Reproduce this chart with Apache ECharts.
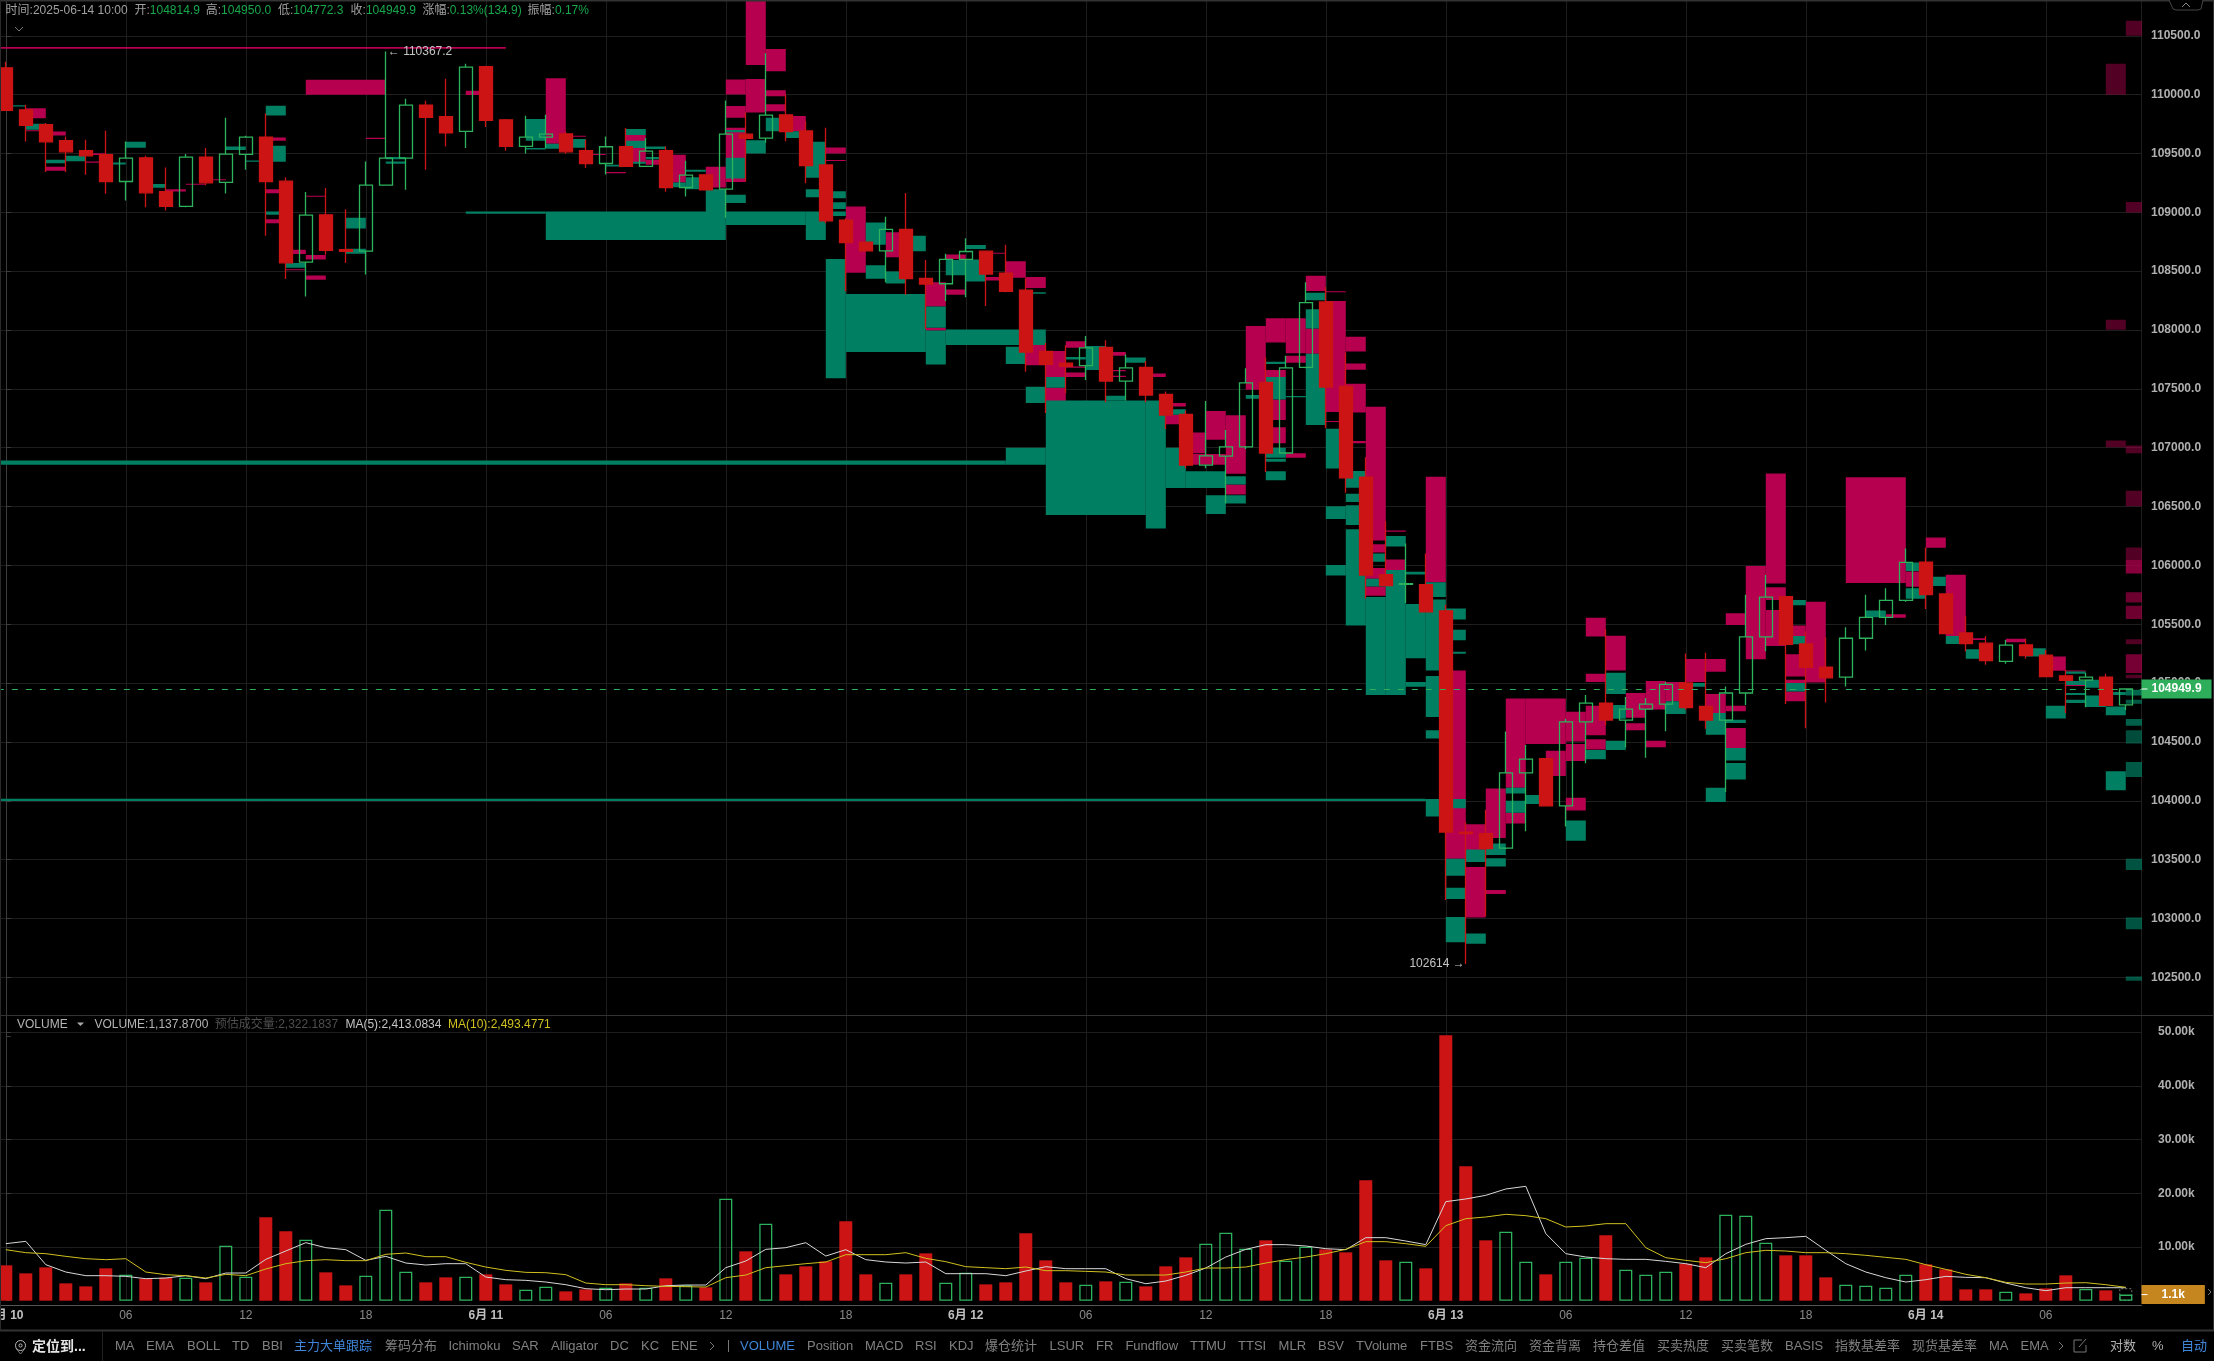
<!DOCTYPE html>
<html><head><meta charset="utf-8"><style>html,body{margin:0;padding:0;background:#000}#c{width:2214px;height:1361px}</style>
<script src="https://cdn.jsdelivr.net/npm/echarts@6/dist/echarts.min.js"></script></head><body><div id="c"></div><script>
const opens=[110228,109871,109744,109608,109523,109489,109262,109463,109175,109050,109469,109254,109492,109639,109265,108577,108979,108682,108671,109231,109461,109911,109812,109687,110237,109786,109560,109639,109667,109523,109415,109557,109390,109523,109211,109319,109197,109664,109631,109828,109691,109403,108934,108746,108673,108855,108439,108393,108600,108670,108484,108339,107819,107718,107697,107852,107566,107682,107454,107284,106852,106928,107007,107554,106955,107682,108238,107521,106749,105922,105840,105836,105614,103734,103722,103598,104237,104358,103957,104670,104830,104686,104779,104822,105002,104803,104686,104916,105392,105735,105333,105136,105051,105381,105559,105703,106028,105757,105426,105339,105184,105325,105237,105062,105025,105051,104814.9];
const closes=[109866,109738,109599,109514,109480,109260,109461,109166,109050,109469,109251,109495,109639,109262,108571,108976,108676,108668,109231,109461,109911,109806,109676,110234,109781,109560,109639,109665,109514,109415,109557,109390,109520,109211,109316,109192,109665,109628,109825,109685,109396,108928,108743,108673,108855,108436,108390,108600,108667,108475,108329,107813,107709,107691,107849,107566,107679,107448,107278,106852,106931,107007,107551,106955,107679,108232,107515,106743,105918,105828,105845,105606,103734,103722,103594,104237,104354,103957,104670,104830,104686,104779,104822,104990,104791,104686,104916,105392,105731,105329,105133,105045,105381,105559,105703,106025,105751,105421,105336,105192,105322,105234,105056,105023,105051,104811,104949.9];
const highs=[110279,109914,109760,109645,109616,109693,109602,109480,109381,109495,109546,109803,109650,109840,109299,109172,109206,109027,109432,110367.2,109965,109948,110135,110262,110245,109792,109820,109829,109687,109616,109645,109716,109631,109560,109438,109319,109951,109849,110351,110001,109773,109719,108950,108746,108962,109165,108594,108649,108779,108670,108725,108440,107889,107870,107949,107913,107791,107737,107478,107317,107396,107150,107676,107767,107782,108405,108366,107810,106920,106375,106187,106102,105665,103820,103925,104588,104475,104358,104698,104900,105458,104881,104873,105010,105251,105259,104971,105751,105918,105735,105438,105390,105475,105751,105805,106144,106153,105760,105571,105401,105367,105376,105282,105113,105085,105079,104950];
const lows=[109860,109602,109342,109342,109319,109158,109101,109044,109016,109044,109231,109160,109362,108801,108433,108285,108639,108569,108472,109225,109192,109362,109560,109546,109724,109523,109500,109546,109497,109376,109322,109385,109385,109175,109135,109192,108954,109263,109591,109603,109248,108907,108329,108673,108405,108299,108010,108247,108278,108205,108320,107646,107296,107463,107575,107387,107402,107387,107159,106825,106825,106527,106990,106794,106945,107675,107165,106618,105719,105821,105680,105600,103157,102614,103020,103590,103742,103957,103781,104319,104639,104452,104366,104592,104775,104612,104074,104815,105271,104822,104616,104836,104972,105277,105494,105692,105630,105415,105268,105155,105164,105206,105050,104746,104794,104805,104772.3];
const volumes=[6583,5092,6210,3229,2670,6024,4844,4099,4285,4285,3416,10247,4471,15525,12917,11364,5279,2857,4658,16953,5403,3416,4347,4471,4906,3043,2049,2608,1739,2111,2422,3229,2422,4161,2857,2484,19003,9191,14345,4906,6396,7328,14780,4906,3353,4906,8818,3353,5216,3043,3416,12544,7514,3416,2981,3602,3540,2670,6396,8073,10619,12668,9688,11240,7452,10060,9563,9005,22418,7514,7266,6024,49432,25026,11240,12855,7266,4906,7266,8011,12172,5775,4844,5403,6893,8073,16022,15836,10805,8446,8446,4347,2981,2795,2422,4844,6769,5837,2111,2111,1677,1366,2298,4720,2174,1925,1137.87];
const ma5=[10619,11054,6707,5341,4658,4658,4533,4099,4223,4658,4099,5154,5154,7700,9253,10805,9874,9501,7514,8259,7017,6645,6893,6893,4409,3912,3788,3478,2981,2236,2049,2174,2174,2795,2919,2919,6148,7390,9563,9874,10805,8321,9501,7638,7204,7017,7204,5030,5030,5030,4658,5527,6334,5962,5962,5962,4099,3167,3664,4720,6086,8135,9563,10433,10433,10184,9688,9501,11737,11737,11116,10433,18444,18941,19624,20804,21300,12482,8756,8135,7825,7700,7700,7328,6893,6148,8756,10495,11551,11737,11985,9377,6893,5341,4285,3478,3912,4533,4347,4285,3291,2422,1863,2422,2422,2422,2413.08];
const ma10=[9501,8942,8756,8259,7825,7638,7825,5341,4844,4658,4223,4906,4658,5900,6893,7452,7638,7452,7452,8632,8880,8197,8197,7142,6272,5651,5279,5216,4844,3291,2981,2981,2795,2670,2608,2546,4285,4782,6148,6521,6893,7204,8570,8570,8570,8942,7887,7266,6334,6148,5962,6272,5589,5589,5465,5341,4782,4782,4782,5341,6086,6086,6272,7017,7638,8135,8756,9563,10992,10992,10619,10122,13973,15277,15587,16084,15836,15277,13724,13910,14345,14345,9874,8011,7514,7079,7825,8942,9377,9253,8942,8942,8756,8446,8073,7700,6707,5837,4906,4285,3416,3105,3105,3291,3353,2981,2493.48];
const estimatedVolume=2322.18, lastPrice=104949.9, lastVolume=1137.87;
const priceHigh=[19,110367.2], priceLow=[73,102614];
// order blocks: [fromCandle, toCandle, lowPrice, highPrice]
const askBlocks=[[-1,25,110390,110405],[15,19,110000,110126],[27,28,109582,110140],[23,24,109996,110033],[1,2,109800,109885],[1,2,109690,109698],[2,3,109653,109687],[2,3,109353,109387],[4,5,109488,109502],[4,5,109422,109432],[8,9,109177,109197],[9,10,109234,109243],[10,11,109276,109282],[13,14,109608,109636],[13,14,109163,109197],[13,14,108908,108942],[14,15,108645,108682],[14,15,108509,108517],[15,16,108600,108637],[15,16,109132,109141],[15,16,108427,108464],[18,19,109622,109633],[28,29,109642,109650],[29,30,109489,109495],[30,31,109333,109342],[31,32,109418,109662],[32,33,109404,109446],[33,34,109254,109489],[35,36,109211,109387],[36,37,110001,110129],[36,37,109804,109904],[36,37,109257,109719],[37,38,110251,110810],[37,38,109849,110132],[38,39,110199,110388],[38,39,109986,110038],[38,39,109859,109919],[39,40,109688,109819],[40,41,109454,109500],[41,42,109500,109551],[41,42,109438,109445],[42,43,108487,109050],[44,45,108618,108831],[46,47,108199,108405],[46,47,107995,108019],[47,48,108603,108642],[47,48,108300,108345],[49,50,108421,108451],[49,50,108648,108657],[50,51,108445,108585],[51,52,108357,108451],[51,52,107700,107949],[52,53,107600,107822],[52,53,107396,107509],[53,54,107849,107904],[53,54,107600,107640],[53,54,107680,107690],[55,56,107782,107813],[55,56,107650,107660],[55,56,107600,107612],[57,58,107600,107630],[58,59,107350,107381],[58,59,107199,107281],[59,60,106952,107129],[60,61,107068,107311],[59,61,106855,106946],[61,62,106779,107275],[61,62,106603,106688],[62,63,107493,108035],[63,64,107895,108101],[64,65,107803,108101],[64,65,107721,107782],[63,64,107600,107660],[63,64,107235,107409],[63,64,107037,107174],[64,65,106915,106952],[65,66,108332,108461],[65,66,107798,108012],[66,67,107303,108246],[66,67,108320,108330],[66,67,107220,107228],[67,68,107818,107942],[67,68,107662,107716],[67,68,107299,107544],[67,68,107037,107057],[68,69,106211,107349],[68,69,106109,106179],[68,69,105887,105977],[68,69,105743,105821],[69,70,106285,106297],[69,70,105961,106051],[71,72,105856,106753],[72,73,103508,105107],[73,74,103527,103800],[73,74,103009,103438],[74,75,103684,104105],[74,75,103208,103243],[75,76,104112,104869],[75,76,103808,103898],[76,78,104483,104869],[77,78,104210,104425],[78,79,104503,104756],[78,79,104339,104483],[78,79,103917,104027],[79,80,105396,105556],[79,80,105010,105080],[79,80,104557,104807],[79,80,104436,104522],[80,81,105107,105403],[81,82,104705,104916],[81,82,104600,104658],[82,83,104775,105017],[82,83,104456,104510],[83,84,104846,105010],[84,85,105010,105204],[85,86,105096,105204],[85,86,104746,104907],[84,85,105085,105198],[86,87,105494,105593],[86,87,104760,104808],[86,87,104449,104619],[87,88,105203,105994],[88,89,105847,106780],[88,89,105706,105814],[88,89,105316,105621],[89,90,105401,105489],[89,90,105056,105246],[89,90,105000,105028],[89,90,104845,104929],[90,91,105005,105692],[92,95,105850,106749],[94,95,105556,105585],[95,96,105819,105949],[96,97,106150,106237],[97,98,105401,105921],[98,99,105367,105381],[100,101,105347,105376],[102,103,105104,105226],[103,104,105099,105108],[103,104,104978,104983]];
const bidBlocks=[[0,1,109900,109910],[1,2,109701,109752],[2,3,109418,109447],[3,4,109435,109480],[5,6,109407,109424],[6,7,109548,109599],[7,8,109209,109240],[11,12,109529,109560],[12,13,109430,109441],[13,14,109823,109905],[13,14,109430,109565],[13,14,108979,109008],[14,15,108529,108569],[17,18,108863,108954],[17,18,108648,108690],[19,20,109452,109469],[19,20,109412,109432],[26,27,109608,109792],[26,27,109534,109546],[27,28,109540,109582],[28,29,109548,109622],[30,31,109390,109404],[31,32,109656,109707],[31,32,109546,109608],[31,32,109412,109430],[32,33,109537,109560],[32,33,109452,109469],[33,34,109214,109254],[34,35,109345,109362],[34,35,109197,109299],[23,27,108988,109008],[27,36,108764,109007],[35,36,108990,109196],[36,40,108892,109007],[36,37,109287,109463],[36,37,109680,109700],[36,37,109080,109150],[37,38,109500,109612],[38,39,109688,109804],[39,40,109631,109688],[40,41,109293,109600],[40,41,109129,109196],[40,41,108764,109007],[41,42,109120,109180],[41,42,109029,109086],[41,42,108968,109007],[41,42,107591,108603],[42,46,107813,108305],[43,44,108725,108913],[43,44,108436,108551],[44,45,108396,108497],[45,46,108670,108801],[46,47,108019,108199],[46,47,107706,107995],[47,52,107873,108004],[47,48,108466,108594],[48,49,108412,108600],[48,49,108688,108722],[50,51,107712,107858],[51,52,108308,108320],[51,52,107381,107518],[52,53,107509,107600],[53,54,107750,107770],[54,55,107661,107864],[56,57,107721,107767],[58,59,107281,107326],[52,57,106429,107402],[55,56,107402,107442],[57,58,106314,107402],[50,52,106855,107000],[58,59,106657,107000],[59,61,106657,106800],[-1,50,106855,106892],[60,61,106436,106597],[61,62,106688,106758],[61,62,106527,106597],[62,63,107417,107447],[63,64,107712,107730],[63,64,107409,107600],[63,64,106915,107000],[63,64,106880,106907],[63,64,106724,106800],[64,65,107428,107440],[65,66,108254,108317],[65,66,108012,108176],[65,66,107193,107798],[66,67,106823,107162],[66,67,106394,106503],[66,67,105914,106004],[67,68,106659,106803],[67,68,106538,106608],[67,68,106343,106511],[67,68,105489,106308],[68,69,106031,106102],[68,69,105821,105887],[68,69,104900,105731],[69,70,106160,106250],[69,70,104900,105961],[70,71,105922,105946],[70,71,105212,105672],[70,71,104970,105010],[71,72,105731,105856],[71,72,105107,105711],[71,72,104713,105060],[71,72,104530,104600],[71,72,103867,104015],[-1,71,103998,104017],[72,73,105540,105633],[72,73,105364,105454],[72,73,105250,105267],[72,73,103937,104015],[72,73,103364,103508],[72,73,103165,103262],[72,73,102798,103013],[73,74,103481,103586],[73,74,102786,102873],[74,75,103539,103637],[74,75,103442,103512],[75,76,104062,104112],[75,76,103898,104000],[76,77,103972,104049],[78,79,103660,103832],[79,80,104354,104432],[80,81,104908,105088],[80,81,104697,104815],[80,81,104432,104510],[83,84,104737,104846],[84,85,104970,105002],[85,86,104562,104746],[85,86,103989,104110],[86,87,104661,104689],[86,87,104342,104449],[86,87,104181,104322],[89,90,105661,105706],[89,90,105330,105401],[89,90,104929,105000],[93,94,105559,105616],[95,96,105952,106025],[95,96,105717,105805],[96,97,105825,105904],[97,98,105333,105401],[98,99,105206,105288],[101,102,105226,105297],[102,103,104700,104808],[103,104,105079,105099],[103,104,104983,105017],[103,104,104900,104915],[103,104,104830,104859],[104,105,104960,105028],[104,105,104797,104895],[105,106,104726,104802],[105,106,104900,104925],[105,106,104090,104251]];
// resting depth in the last column: [from, to, low, high, strength]
const depthAsk=[[106,107,110500,110627,.45],[105,106,109999,110262,.45],[106,107,108999,109087,.45],[105,106,108002,108087,.45],[105,106,107005,107062,.45],[106,107,106954,107019,.45],[106,107,106503,106634,.45],[106,107,106045,106153,.45],[106,107,105932,106045,.75],[106,107,105684,105771,.6],[106,107,105545,105658,.6],[106,107,105330,105373,.45],[106,107,105085,105246,.65],[106,107,105042,105070,.45]];
const depthBid=[[106,107,104895,104943,.8],[106,107,104825,104859,.7],[106,107,104638,104695,.75],[106,107,104486,104599,.6],[106,107,104203,104330,.7],[106,107,103412,103508,.65],[106,107,102909,103008,.65],[106,107,102472,102508,.65]];
const headerLabels=['时间:','开:','高:','低:','收:','涨幅:','振幅:'];
const headerValues=['2025-06-14 10:00','104814.9','104950.0','104772.3','104949.9','0.13%(134.9)','0.17%'];
const volumeLegend=['VOLUME','VOLUME:1,137.8700','预估成交量:2,322.1837','MA(5):2,413.0834','MA(10):2,493.4771'];
const toolbarItems=['MA','EMA','BOLL','TD','BBI','主力大单跟踪','筹码分布','Ichimoku','SAR','Alligator','DC','KC','ENE','VOLUME','Position','MACD','RSI','KDJ','爆仓统计','LSUR','FR','Fundflow','TTMU','TTSI','MLR','BSV','TVolume','FTBS','资金流向','资金背离','持仓差值','买卖热度','买卖笔数','BASIS','指数基差率','现货基差率','MA','EMA','对数','%','自动'];

const toolbarX=[115,146,187,232,262,294,385,448.5,512,551,610,641,671,740,807,865,915,949,985,1049.5,1096,1125.4,1190,1238,1278.6,1318,1356,1420,1465,1529,1593,1657,1721,1785,1835,1912,1989,2020.5,2110,2152,2181];
const headerX=[[5.6,32.9],[134.5,149.8],[205.8,221.1],[278,293.3],[350.6,365.9],[422.4,449.7],[527.6,554.9]];
const FONT='"Liberation Sans","Noto Sans CJK SC",sans-serif';
const ASK='#b6004f',BID='#007f62',UP='#2db35d',DOWN='#cc1414',GRID='#1e1e1e',AXIS='#3c3c3c',TXT='#b0b0b0',MA10C='#d0c020';
const XMAX=106.785,XMIN=-6,LEFT=5.8+XMIN*20,WIDTH=(XMAX-XMIN)*20;
const idx=opens.map((_,i)=>i);
const rectItem=(color,op)=>(p,api)=>{const a=api.coord([api.value(0),api.value(3)]),b=api.coord([api.value(1),api.value(2)]);
  return {type:'rect',shape:{x:a[0],y:a[1],width:b[0]-a[0],height:Math.max(b[1]-a[1],1)},style:{fill:color,opacity:op?api.value(4):1}}};
const blockSeries=(name,d,color,op)=>({name,type:'custom',xAxisIndex:0,yAxisIndex:0,z:1,silent:true,clip:true,data:d,encode:{x:[0,1],y:[2,3]},renderItem:rectItem(color,op)});
const tickSeries=(xi,yi,v)=>({type:'custom',xAxisIndex:xi,yAxisIndex:yi,z:6,silent:true,clip:false,data:[[XMAX,v]],encode:{x:0,y:1},renderItem:(p,api)=>{const c=api.coord([api.value(0),api.value(1)]);return {type:'line',shape:{x1:c[0],y1:c[1],x2:c[0]+6,y2:c[1]},style:{stroke:'#fff',lineWidth:1}}}});
const text=(t,x,y,fill,opt)=>({type:'text',z:20,silent:true,style:Object.assign({text:t,x,y,fill,font:'12px '+FONT,verticalAlign:'middle'},opt||{})});
const graphics=[];
headerLabels.forEach((l,i)=>{graphics.push(text(l,headerX[i][0],11,'#a0a0a0'));graphics.push(text(headerValues[i],headerX[i][1],11,i==0?'#a0a0a0':'#18a84a'));});
graphics.push({type:'polyline',silent:true,shape:{points:[[15,27],[19,31],[23,27]]},style:{stroke:'#777',lineWidth:1,fill:null}});
// separators
[[0,0,2214,1.5,'#333'],[0,1015,2214,1,'#333'],[0,1329.5,2214,2,'#333']].forEach(r=>graphics.push({type:'rect',silent:true,z:15,shape:{x:r[0],y:r[1],width:r[2],height:r[3]},style:{fill:r[4]}}));
graphics.push({type:'rect',silent:true,z:15,shape:{x:102,y:1331,width:1,height:30},style:{fill:'#222'}});
graphics.push({type:'rect',silent:true,z:15,shape:{x:2213,y:0,width:1,height:1330},style:{fill:'#333'}});
graphics.push({type:'rect',silent:true,z:15,shape:{x:0,y:0,width:1,height:1330},style:{fill:'#2a2a2a'}});
// collapse tab
graphics.push({type:'polyline',silent:true,z:15,shape:{points:[[2169,0],[2173,9],[2176,10],[2198,10],[2201,9],[2203,0]]},style:{stroke:'#444',fill:'#000',lineWidth:1}});
graphics.push({type:'polyline',silent:true,z:16,shape:{points:[[2182,7],[2186,3],[2190,7]]},style:{stroke:'#888',fill:null,lineWidth:1}});
// volume legend
[[17,'#b4b4b4'],[94.4,'#b4b4b4'],[214.8,'#4f4f4f'],[345.4,'#c4c4c4'],[448,MA10C]].forEach((c,i)=>graphics.push(text(volumeLegend[i],c[0],1025,c[1])));
graphics.push({type:'polygon',silent:true,z:20,shape:{points:[[77,1022.5],[84,1022.5],[80.5,1026]]},style:{fill:'#aaa'}});
// toolbar
toolbarItems.forEach((t,i)=>{const blue=(t==='主力大单跟踪'||t==='VOLUME'||t==='自动');const bright=(t==='对数'||t==='%');
  graphics.push(text(t,toolbarX[i],1346,blue?'#3f86d9':bright?'#b0b0b0':'#808080',{font:'13px '+FONT}));});
graphics.push(text('定位到...',32,1347,'#e6e6e6',{font:'bold 14px '+FONT}));
graphics.push({type:'circle',silent:true,z:20,shape:{cx:20.5,cy:1345.5,r:5},style:{stroke:'#bbb',fill:null,lineWidth:1}});
graphics.push({type:'circle',silent:true,z:20,shape:{cx:20.5,cy:1345.5,r:1.6},style:{stroke:'#bbb',fill:null,lineWidth:1}});
[[[16,1348.5],[20.5,1354],[25,1348.5]],[[710,1342],[714,1346],[710,1350]],[[2059,1342],[2063,1346],[2059,1350]],[[2082,1340],[2074,1340],[2074,1352],[2086,1352],[2086,1345]],[[2079,1347],[2086,1339]],[[728.5,1340],[728.5,1352]]].forEach(e=>graphics.push({type:'polyline',silent:true,z:20,shape:{points:e},style:{stroke:'#777',fill:null,lineWidth:1}}));
// far right chevron
graphics.push({type:'polyline',silent:true,z:20,shape:{points:[[2208,1289],[2211,1292],[2208,1295]]},style:{stroke:'#777',fill:null,lineWidth:1}});

const xLabel=v=>{if(v<0||!Number.isInteger(v))return '';const h=v%24;if(h===0)return '{d|6月 '+(10+v/24)+'}';return '{h|'+String(h).padStart(2,'0')+'}';};
const chart=echarts.init(document.getElementById('c'),null,{width:2214,height:1361});
chart.setOption({
  backgroundColor:'#000',animation:false,textStyle:{fontFamily:FONT},
  graphic:{elements:graphics},
  grid:[{left:LEFT,width:WIDTH,top:0,height:1036.2,outerBoundsMode:'none'},{left:LEFT,width:WIDTH,top:1015,height:285.7,outerBoundsMode:'none'}],
  xAxis:[
    {type:'value',gridIndex:0,min:XMIN,max:XMAX,interval:6,axisLine:{show:false},axisTick:{show:false},axisLabel:{show:false},splitLine:{show:true,lineStyle:{color:GRID,width:1}}},
    {type:'value',gridIndex:1,min:XMIN,max:XMAX,interval:6,position:'bottom',offset:4.3,axisLine:{show:true,onZero:false,lineStyle:{color:'#555'}},axisTick:{show:false},
     axisLabel:{show:true,margin:5,formatter:xLabel,rich:{d:{fontFamily:FONT,fontSize:12,fontWeight:'bold',color:'#c0c0c0'},h:{fontFamily:FONT,fontSize:12,color:'#8a8a8a'}}},splitLine:{show:true,lineStyle:{color:GRID,width:1}}}
  ],
  yAxis:[
    {type:'value',gridIndex:0,position:'right',min:102000,max:110804,interval:500,axisLine:{show:true,lineStyle:{color:AXIS}},axisTick:{show:true,length:5,lineStyle:{color:AXIS}},
     axisLabel:{margin:9.5,color:TXT,fontSize:12,fontWeight:'bold',fontFamily:FONT,formatter:v=>(v%500===0&&v>102000)?v.toFixed(1):''},splitLine:{show:true,showMinLine:false,showMaxLine:false,lineStyle:{color:GRID,width:1}}},
    {type:'value',gridIndex:1,position:'right',min:0,max:53200,interval:10000,axisLine:{show:true,lineStyle:{color:AXIS}},axisTick:{show:true,length:5,lineStyle:{color:AXIS}},
     axisLabel:{margin:16.5,color:TXT,fontSize:12,fontWeight:'bold',fontFamily:FONT,formatter:v=>(v>0&&v%10000===0)?(v/1000).toFixed(2)+'k':''},splitLine:{show:true,showMinLine:false,showMaxLine:false,lineStyle:{color:GRID,width:1}}}
  ],
  series:[
    blockSeries('主力卖单',askBlocks,ASK,false),
    blockSeries('主力买单',bidBlocks,BID,false),
    blockSeries('卖盘深度',depthAsk,ASK,true),
    blockSeries('买盘深度',depthBid,BID,true),
    {name:'K线',type:'candlestick',xAxisIndex:0,yAxisIndex:0,z:3,clip:false,barWidth:13,silent:true,
     data:idx.map(i=>[i,opens[i],closes[i],lows[i],highs[i]]),encode:{x:0,y:[1,2,3,4]},
     itemStyle:{color:'transparent',color0:DOWN,borderColor:UP,borderColor0:DOWN,borderWidth:1.3},
     markLine:{silent:true,symbol:'none',animation:false,lineStyle:{color:'#2eb05a',type:[6,8],width:1},
       label:{show:true,position:'end',distance:0,formatter:lastPrice.toFixed(1),color:'#fff',fontSize:12,fontFamily:FONT,fontWeight:'bold',backgroundColor:'#2eae5a',padding:[4,10,3,10]},
       data:[{yAxis:lastPrice}]},
     markPoint:{silent:true,symbol:'circle',symbolSize:0,animation:false,data:[
       {coord:priceHigh,label:{show:true,position:'right',distance:2,formatter:'← '+priceHigh[1],color:'#c4c4c4',fontSize:12,fontFamily:FONT}},
       {coord:priceLow,label:{show:true,position:'left',distance:1,formatter:priceLow[1]+' →',color:'#c4c4c4',fontSize:12,fontFamily:FONT}}]}},
    {name:'VOLUME',type:'bar',xAxisIndex:1,yAxisIndex:1,z:3,barWidth:13,barGap:'-100%',silent:true,
     data:idx.map(i=>({value:[i,volumes[i]],itemStyle:closes[i]>opens[i]?{color:'transparent',borderColor:UP,borderWidth:1.3}:{color:DOWN,borderWidth:0}})),
     markLine:{silent:true,symbol:'none',animation:false,lineStyle:{color:'transparent',width:0.01},
       label:{show:true,position:'end',distance:0,formatter:'1.1k',color:'#fff',fontSize:12,fontFamily:FONT,fontWeight:'bold',backgroundColor:'#c5861f',padding:[4,20,3,20]},
       data:[{yAxis:lastVolume}]}},
    {name:'预估成交量',type:'bar',xAxisIndex:1,yAxisIndex:1,z:2,barWidth:13,barGap:'-100%',silent:true,
     data:[{value:[106,estimatedVolume],itemStyle:{color:'transparent',borderColor:'#777',borderWidth:1,borderType:[2,2]}}]},
    {name:'MA5',type:'line',xAxisIndex:1,yAxisIndex:1,z:4,silent:true,showSymbol:false,symbol:'none',data:idx.map(i=>[i,ma5[i]]),lineStyle:{color:'#d8d8d8',width:1}},
    {name:'MA10',type:'line',xAxisIndex:1,yAxisIndex:1,z:4,silent:true,showSymbol:false,symbol:'none',data:idx.map(i=>[i,ma10[i]]),lineStyle:{color:MA10C,width:1}},
    tickSeries(0,0,lastPrice),tickSeries(1,1,lastVolume)
  ]
});
</script></body></html>
